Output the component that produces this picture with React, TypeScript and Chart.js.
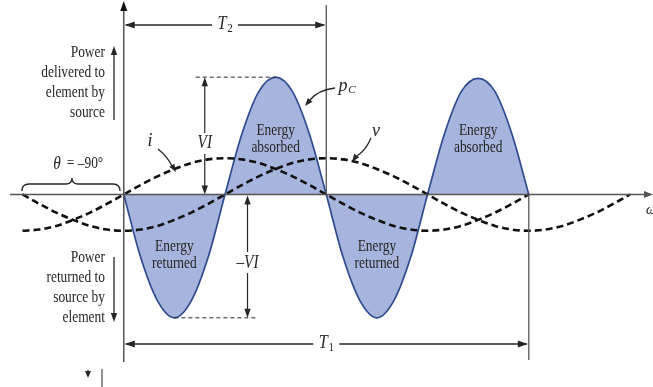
import React, { useEffect, useRef } from 'react';
import { Chart, registerables } from 'chart.js';

Chart.register(...registerables);

// angle (degrees of ωt) and values (p in units of VI, v and i normalised)
const pAngles = [0, 15, 30, 45, 60, 75, 90, 105, 120, 135, 150, 165, 180, 195, 210, 225, 240, 255, 270, 285, 300, 315, 330, 345, 360];
const pValues = [0, -0.52, -0.88, -1.02, -0.88, -0.52, 0, 0.5, 0.85, 0.97, 0.85, 0.5, 0, -0.52, -0.88, -1.02, -0.88, -0.52, 0, 0.5, 0.85, 0.96, 0.85, 0.5, 0];

const vAngles = [-90, -75, -60, -45, -30, -15, 0, 15, 30, 45, 60, 75, 90, 105, 120, 135, 150, 165, 180, 195, 210, 225, 240, 255, 270, 285, 300, 315, 330, 345, 360, 375, 390, 405, 420, 435, 450];
const vValues = [0, -0.078, -0.15, -0.21, -0.26, -0.29, -0.3, -0.29, -0.26, -0.21, -0.15, -0.078, 0, 0.078, 0.15, 0.21, 0.26, 0.29, 0.3, 0.29, 0.26, 0.21, 0.15, 0.078, 0, -0.078, -0.15, -0.21, -0.26, -0.29, -0.3, -0.29, -0.26, -0.21, -0.15, -0.078, 0];

const iAngles = [-90, -75, -60, -45, -30, -15, 0, 15, 30, 45, 60, 75, 90, 105, 120, 135, 150, 165, 180, 195, 210, 225, 240, 255, 270, 285, 300, 315, 330, 345, 360];
const iValues = [-0.3, -0.29, -0.26, -0.21, -0.15, -0.078, 0, 0.078, 0.15, 0.21, 0.26, 0.29, 0.3, 0.29, 0.26, 0.21, 0.15, 0.078, 0, -0.078, -0.15, -0.21, -0.26, -0.29, -0.3, -0.29, -0.26, -0.21, -0.15, -0.078, 0];

const absorbedLabel = ['Energy', 'absorbed'];
const returnedLabel = ['Energy', 'returned'];
const deliveredLabel = ['Power', 'delivered to', 'element by', 'source'];
const returnedPowerLabel = ['Power', 'returned to', 'source by', 'element'];

const SERIF = '"Liberation Serif", "DejaVu Serif", serif';
const INK = '#262626';
const AXIS = '#555555';

function txt(ctx: CanvasRenderingContext2D, s: string, x: number, y: number, size: number, align: CanvasTextAlign = 'center', italic = false, squeeze = 0.88) {
  ctx.save();
  ctx.translate(x, y);
  ctx.scale(squeeze, 1);
  ctx.font = `${italic ? 'italic ' : ''}${size}px ${SERIF}`;
  ctx.textAlign = align;
  ctx.textBaseline = 'middle';
  ctx.fillStyle = INK;
  ctx.fillText(s, 0, 0);
  ctx.restore();
}

function head(ctx: CanvasRenderingContext2D, x: number, y: number, ang: number, len = 9, hw = 3.2, color = INK) {
  ctx.save();
  ctx.translate(x, y);
  ctx.rotate(ang);
  ctx.beginPath();
  ctx.moveTo(0, 0);
  ctx.lineTo(-len, -hw);
  ctx.lineTo(-len, hw);
  ctx.closePath();
  ctx.fillStyle = color;
  ctx.fill();
  ctx.restore();
}

function line(ctx: CanvasRenderingContext2D, x1: number, y1: number, x2: number, y2: number, w = 1.3, color = INK, dash: number[] = []) {
  ctx.save();
  ctx.beginPath();
  ctx.setLineDash(dash);
  ctx.moveTo(x1, y1);
  ctx.lineTo(x2, y2);
  ctx.lineWidth = w;
  ctx.strokeStyle = color;
  ctx.stroke();
  ctx.restore();
}

function tLabel(ctx: CanvasRenderingContext2D, x: number, y: number, sub: string) {
  ctx.save();
  ctx.fillStyle = '#ffffff';
  ctx.fillRect(x - 13, y - 10, 26, 20);
  ctx.restore();
  txt(ctx, 'T', x - 3, y - 1, 18, 'center', true, 0.9);
  txt(ctx, sub, x + 5, y + 4, 12, 'center', false, 0.92);
}

const annotations = {
  id: 'annotations',
  afterDatasetsDraw(chart: any) {
    const ctx: CanvasRenderingContext2D = chart.ctx;
    const xs = chart.scales.x;
    const ys = chart.scales.y;
    const X = (d: number) => xs.getPixelForValue(d);
    const Y = (v: number) => ys.getPixelForValue(v);
    const x0 = X(0);
    const y0 = Y(0);

    // axes
    line(ctx, 10, y0, 648, y0, 1.5, AXIS);
    head(ctx, 653, y0, 0, 9, 3.5, AXIS);
    line(ctx, x0, 6, x0, 362, 1.5, AXIS);
    head(ctx, x0, 1, -Math.PI / 2, 10, 3.5, '#111');
    txt(ctx, 'ωt', 646, 210, 14, 'left', true, 1);

    // T2 span
    const x180 = X(180);
    const x360 = X(360);
    line(ctx, x180, 5, x180, y0, 1.3, AXIS);
    line(ctx, x0 + 2, 25, x180 - 2, 25, 1.3);
    head(ctx, x0 + 1, 25, Math.PI, 10, 3.5);
    head(ctx, x180 - 1, 25, 0, 10, 3.5);
    tLabel(ctx, X(90), 25, '2');

    // T1 span
    line(ctx, x360, y0, x360, 360, 1.3, AXIS);
    line(ctx, x0 + 2, 344, x360 - 2, 344, 1.3);
    head(ctx, x0 + 1, 344, Math.PI, 10, 3.5);
    head(ctx, x360 - 1, 344, 0, 10, 3.5);
    tLabel(ctx, x180, 344, '1');

    // VI marker
    const xVI = X(72);
    const yTop = Y(0.97);
    line(ctx, X(64), yTop, X(135), yTop, 1, INK, [4, 3]);
    line(ctx, xVI, yTop + 4, xVI, y0 - 4, 1.2);
    head(ctx, xVI, yTop, -Math.PI / 2, 9, 3.2);
    head(ctx, xVI, y0, Math.PI / 2, 9, 3.2);
    ctx.save();
    ctx.fillStyle = '#fff';
    ctx.fillRect(xVI - 11, 133, 22, 21);
    ctx.restore();
    txt(ctx, 'VI', xVI, 143, 18, 'center', true, 0.85);

    // -VI marker
    const xNVI = X(110);
    const yBot = Y(-1.02);
    line(ctx, X(45), yBot, X(118), yBot, 1, INK, [4, 3]);
    line(ctx, xNVI, y0 + 4, xNVI, yBot - 4, 1.2);
    head(ctx, xNVI, y0 + 1, -Math.PI / 2, 9, 3.2);
    head(ctx, xNVI, yBot, Math.PI / 2, 9, 3.2);
    ctx.save();
    ctx.fillStyle = '#fff';
    ctx.fillRect(xNVI - 13, 252, 26, 21);
    ctx.restore();
    txt(ctx, '\u2013VI', xNVI, 263, 18, 'center', true, 0.85);

    // energy labels
    const lab = (lines: string[], x: number, ya: number) => {
      lines.forEach((s, k) => txt(ctx, s, x, ya + k * 17, 17, 'center', false, 0.79));
    };
    lab(absorbedLabel, X(135), 131);
    lab(absorbedLabel, X(315), 131);
    lab(returnedLabel, X(45), 247);
    lab(returnedLabel, X(225), 247);

    // side power labels
    deliveredLabel.forEach((s, k) => txt(ctx, s, 105, 53 + k * 19.7, 17, 'right', false, 0.79));
    returnedPowerLabel.forEach((s, k) => txt(ctx, s, 105, 258 + k * 20, 17, 'right', false, 0.79));
    line(ctx, 114, 120, 114, 54, 1.3);
    head(ctx, 114, 46, -Math.PI / 2, 9, 3.2);
    line(ctx, 114, 257, 114, 314, 1.3);
    head(ctx, 114, 322, Math.PI / 2, 9, 3.2);

    // theta brace and label
    ctx.save();
    ctx.beginPath();
    ctx.moveTo(22, 191);
    ctx.quadraticCurveTo(22, 184, 29, 184);
    ctx.lineTo(66, 184);
    ctx.quadraticCurveTo(72, 184, 72, 178);
    ctx.quadraticCurveTo(72, 184, 78, 184);
    ctx.lineTo(113, 184);
    ctx.quadraticCurveTo(120, 184, 120, 191);
    ctx.lineWidth = 1.3;
    ctx.strokeStyle = INK;
    ctx.stroke();
    ctx.restore();
    txt(ctx, 'θ', 57, 164, 18, 'center', true, 0.85);
    txt(ctx, '= \u201390°', 85, 164, 17, 'center', false, 0.79);

    // i label with leader
    txt(ctx, 'i', 150, 141, 18, 'center', true, 1);
    ctx.save();
    ctx.beginPath();
    ctx.moveTo(158, 149);
    ctx.quadraticCurveTo(167, 156, 172, 166);
    ctx.lineWidth = 1.3;
    ctx.strokeStyle = INK;
    ctx.stroke();
    ctx.restore();
    head(ctx, 176, 172, Math.atan2(8, 5), 8, 3);

    // p_C label with leader
    txt(ctx, 'p', 343, 86, 18, 'center', true, 1);
    txt(ctx, 'C', 352, 90, 11, 'center', true, 1);
    ctx.save();
    ctx.beginPath();
    ctx.moveTo(335, 88);
    ctx.quadraticCurveTo(318, 90, 310, 100);
    ctx.lineWidth = 1.3;
    ctx.strokeStyle = INK;
    ctx.stroke();
    ctx.restore();
    head(ctx, 305, 106, Math.atan2(6, -5), 8, 3);

    // v label with leader
    txt(ctx, 'v', 376, 131, 18, 'center', true, 1);
    ctx.save();
    ctx.beginPath();
    ctx.moveTo(371, 138);
    ctx.quadraticCurveTo(366, 150, 357, 156);
    ctx.lineWidth = 1.3;
    ctx.strokeStyle = INK;
    ctx.stroke();
    ctx.restore();
    head(ctx, 352, 162, Math.atan2(7, -5), 8, 3);

    // fragment at the bottom
    head(ctx, 88, 378, Math.PI / 2, 7, 3);
    line(ctx, 88, 370, 88, 374, 1.2);
    line(ctx, 102, 369, 102, 387, 1.3, AXIS);
  },
};

export default function App() {
  const ref = useRef<HTMLCanvasElement | null>(null);
  useEffect(() => {
    if (!ref.current) return;
    const chart = new Chart(ref.current, {
      type: 'line',
      data: {
        datasets: [
          {
            label: 'v',
            data: vAngles.map((a, k) => ({ x: a, y: vValues[k] })),
            borderColor: '#111111',
            borderWidth: 2.6,
            borderDash: [7, 4],
            pointRadius: 0,
            fill: false,
            cubicInterpolationMode: 'monotone',
          },
          {
            label: 'i',
            data: iAngles.map((a, k) => ({ x: a, y: iValues[k] })),
            borderColor: '#111111',
            borderWidth: 2.6,
            borderDash: [7, 4],
            pointRadius: 0,
            fill: false,
            cubicInterpolationMode: 'monotone',
          },
          {
            label: 'pC',
            data: pAngles.map((a, k) => ({ x: a, y: pValues[k] })),
            borderColor: '#2f4a8e',
            borderWidth: 1.7,
            pointRadius: 0,
            fill: { target: 'origin', above: '#a7b4dd', below: '#a7b4dd' },
            cubicInterpolationMode: 'monotone',
          },
        ],
      },
      options: {
        animation: false,
        responsive: false,
        events: [],
        layout: { padding: 0 },
        plugins: { legend: { display: false }, tooltip: { enabled: false } },
        scales: {
          x: { type: 'linear', min: -110, max: 470.4, display: false },
          y: { type: 'linear', min: -1.592, max: 1.608, display: false },
        },
      },
      plugins: [annotations],
    } as any);
    return () => chart.destroy();
  }, []);
  return (
    <div style={{ position: 'fixed', left: 0, top: 0, width: 653, height: 387, background: '#ffffff' }}>
      <canvas ref={ref} width={653} height={387} style={{ display: 'block' }} />
    </div>
  );
}
